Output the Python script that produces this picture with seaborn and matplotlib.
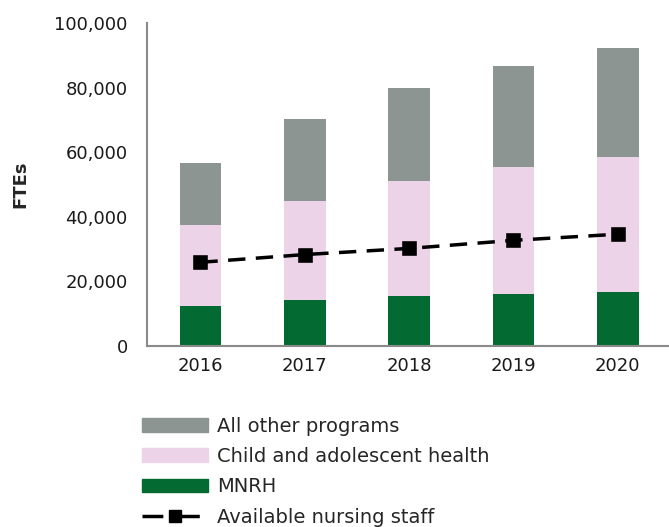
import seaborn as sns
import matplotlib.pyplot as plt
from matplotlib.patches import Patch
from matplotlib.lines import Line2D
from matplotlib.ticker import FuncFormatter

# datos
years = ["2016", "2017", "2018", "2019", "2020"]
mnrh = [12500, 14300, 15600, 16200, 16800]
child = [24900, 30600, 35500, 39300, 41800]
other = [19200, 25500, 28700, 31100, 33600]
nursing = [25900, 28300, 30200, 32700, 34600]

sns.set_style("white")
plt.rcParams["font.family"] = ["DejaVu Sans"]

c_other = "#8c9591"
c_child = "#edd3e8"
c_mnrh = "#036b32"

fig = plt.figure(figsize=(6.69, 5.27), dpi=100)
ax = fig.add_axes([0.22, 0.3435, 0.78, 0.613])

base2 = [a + b for a, b in zip(mnrh, child)]
sns.barplot(x=years, y=mnrh, color=c_mnrh, width=0.4, saturation=1, linewidth=0, ax=ax)
sns.barplot(x=years, y=child, bottom=mnrh, color=c_child, width=0.4, saturation=1, linewidth=0, ax=ax)
sns.barplot(x=years, y=other, bottom=base2, color=c_other, width=0.4, saturation=1, linewidth=0, ax=ax)
sns.pointplot(x=years, y=nursing, color="black", markers="s", linestyles="--",
              markersize=9, linewidth=2.5, ax=ax)
for ln in ax.lines:
    ln.set_dashes((5, 3))

ax.set_ylim(0, 100000)
ax.set_xlim(-0.51, 4.49)
ax.set_yticks(range(0, 100001, 20000))
ax.yaxis.set_major_formatter(FuncFormatter(lambda v, p: f"{int(v):,}"))
ax.tick_params(axis="both", labelsize=13, length=0, colors="#1a1a1a")
ax.tick_params(axis="y", pad=14)
ax.tick_params(axis="x", pad=8)
ax.set_xlabel("")
ax.set_ylabel("FTEs", fontsize=13, fontweight="bold", labelpad=18)
sns.despine(ax=ax)
for s in ["left", "bottom"]:
    ax.spines[s].set_color("#8a8a8a")
    ax.spines[s].set_linewidth(1.5)

handles = [
    Patch(color=c_other, label="All other programs"),
    Patch(color=c_child, label="Child and adolescent health"),
    Patch(color=c_mnrh, label="MNRH"),
    Line2D([0], [0], color="black", linestyle="--", dashes=(6, 4.5), linewidth=2.5,
           marker="s", markersize=9, label="Available nursing staff"),
]
fig.legend(handles=handles, loc="upper left", bbox_to_anchor=(0.2, 0.224),
           frameon=False, fontsize=14, handlelength=3.4, labelspacing=0.58,
           handletextpad=0.5, borderaxespad=0)

fig.savefig("out.png", dpi=100)
